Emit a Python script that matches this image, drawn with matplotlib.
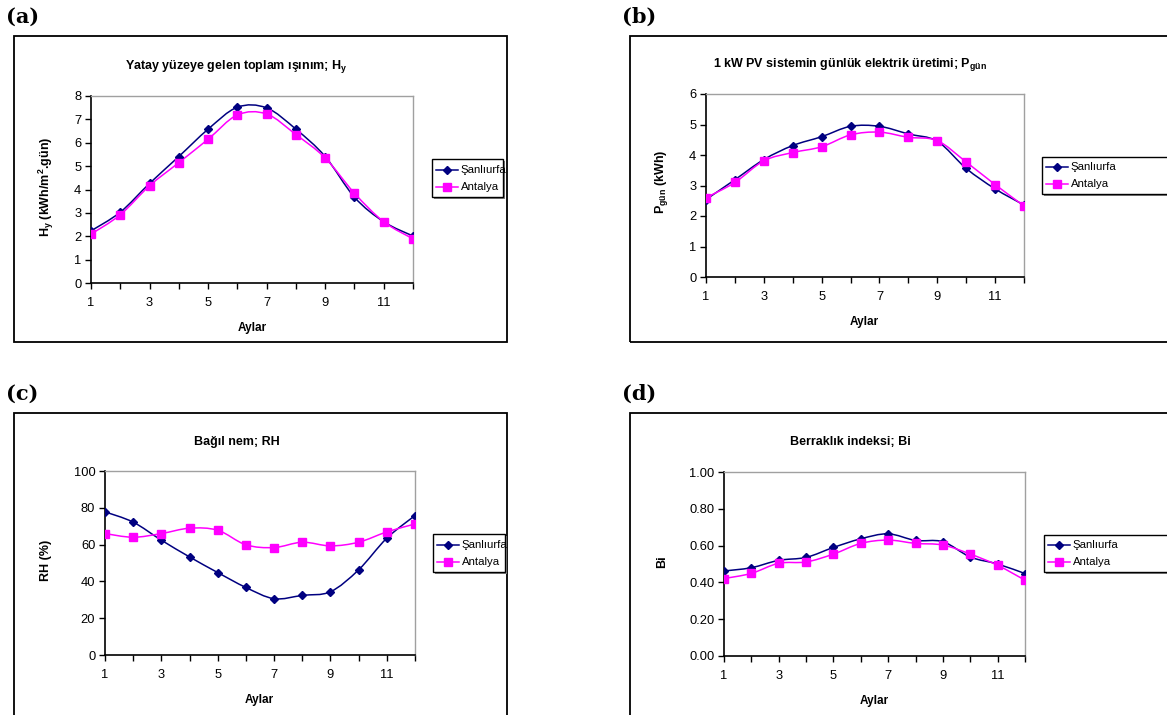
import matplotlib
matplotlib.use("Agg")
import matplotlib.pyplot as plt
from matplotlib.path import Path
from matplotlib.patches import PathPatch, Rectangle
from matplotlib.lines import Line2D
import numpy as np

plt.rcParams['font.family'] = ['Liberation Sans', 'DejaVu Sans']
plt.rcParams['mathtext.default'] = 'regular'

months = list(range(1, 13))
month_labels = ['1', '', '3', '', '5', '', '7', '', '9', '', '11', '']
cities = ['Şanlıurfa', 'Antalya']

# Horizontal global radiation, kWh/m2.day
hy_sanliurfa = [2.23, 3.03, 4.26, 5.41, 6.58, 7.52, 7.49, 6.58, 5.41, 3.67, 2.62, 2.01]
hy_antalya = [2.09, 2.92, 4.16, 5.15, 6.15, 7.19, 7.23, 6.35, 5.35, 3.84, 2.62, 1.89]

# Daily output of a 1 kW PV system, kWh
p_sanliurfa = [2.54, 3.19, 3.85, 4.31, 4.60, 4.94, 4.94, 4.69, 4.45, 3.56, 2.89, 2.36]
p_antalya = [2.60, 3.10, 3.81, 4.08, 4.27, 4.66, 4.75, 4.58, 4.47, 3.77, 3.03, 2.33]

# Relative humidity, %
rh_sanliurfa = [77.8, 72.2, 62.4, 53.3, 44.8, 36.7, 30.6, 32.4, 34.4, 46.3, 63.5, 75.8]
rh_antalya = [66.0, 64.0, 66.0, 68.9, 67.8, 59.9, 58.4, 61.3, 59.3, 61.3, 66.9, 71.2]

# Clearness index
bi_sanliurfa = [0.462, 0.480, 0.520, 0.536, 0.590, 0.637, 0.664, 0.628, 0.621, 0.538, 0.500, 0.448]
bi_antalya = [0.421, 0.449, 0.504, 0.511, 0.554, 0.612, 0.630, 0.612, 0.603, 0.554, 0.493, 0.412]

W, H = 1167, 715
fig = plt.figure(figsize=(W / 100, H / 100), dpi=100)

NAVY = '#000080'
MAGENTA = '#FF00FF'


def px_axes(l, t, r, b):
    return fig.add_axes([l / W, 1 - b / H, (r - l) / W, (b - t) / H])


def smooth_path(xs, ys):
    """Cubic Bezier path through the points (spreadsheet-style smoothed line)."""
    xs = np.asarray(xs, float)
    ys = np.asarray(ys, float)
    n = len(xs)
    pts = np.column_stack([xs, ys])
    verts = [pts[0]]
    codes = [Path.MOVETO]
    for i in range(n - 1):
        p0 = pts[i - 1] if i > 0 else pts[i]
        p1 = pts[i]
        p2 = pts[i + 1]
        p3 = pts[i + 2] if i + 2 < n else pts[i + 1]
        c1 = p1 + (p2 - p0) / 6.0
        c2 = p2 - (p3 - p1) / 6.0
        verts += [c1, c2, p2]
        codes += [Path.CURVE4] * 3
    return Path(verts, codes)


def panel(ax, s1, s2, ylim, yticks, yfmt):
    for ys, color, marker, ms in ((s1, NAVY, 'D', 4.5), (s2, MAGENTA, 's', 5.5)):
        ax.add_patch(PathPatch(smooth_path(months, ys), facecolor='none',
                               edgecolor=color, lw=1.1, zorder=3))
        ax.plot(months, ys, linestyle='none', marker=marker, color=color,
                markersize=ms, zorder=4)
    ax.set_xlim(1, 12)
    ax.set_ylim(*ylim)
    ax.set_xticks(months)
    ax.set_xticklabels(month_labels)
    ax.set_yticks(yticks)
    ax.set_yticklabels([yfmt.format(v) for v in yticks])
    ax.tick_params(axis='both', direction='out', labelsize=9.3, color='black',
                   width=1, length=4, pad=3)
    ax.tick_params(axis='x', pad=6)
    for side in ('left', 'bottom'):
        ax.spines[side].set_color('black')
        ax.spines[side].set_linewidth(1.2)
    for side in ('top', 'right'):
        ax.spines[side].set_color('#A0A0A0')
        ax.spines[side].set_linewidth(1.0)


def frame(l, t, r, b):
    fig.patches.append(Rectangle((l / W, 1 - b / H), (r - l) / W, (b - t) / H,
                                 transform=fig.transFigure, fill=False,
                                 edgecolor='black', lw=1.3))


def legend_box(l, t, r, b):
    # drop shadow then box
    fig.patches.append(Rectangle(((l + 2) / W, 1 - (b + 2) / H), (r - l) / W, (b - t) / H,
                                 transform=fig.transFigure, facecolor='#808080',
                                 edgecolor='none'))
    fig.patches.append(Rectangle((l / W, 1 - b / H), (r - l) / W, (b - t) / H,
                                 transform=fig.transFigure, facecolor='white',
                                 edgecolor='black', lw=1.0))
    rows = [(NAVY, 'D', 4.5), (MAGENTA, 's', 5.5)]
    h = (b - t)
    for k, (color, marker, ms) in enumerate(rows):
        y = t + h * (0.28 + 0.46 * k)
        fig.add_artist(Line2D([(l + 4) / W, (l + 26) / W], [1 - y / H, 1 - y / H],
                              color=color, lw=1.1, transform=fig.transFigure))
        fig.add_artist(Line2D([(l + 15) / W], [1 - y / H], marker=marker,
                              color=color, markersize=ms, transform=fig.transFigure))
        fig.text((l + 28.5) / W, 1 - y / H, cities[k], fontsize=8.2,
                 va='center', ha='left')


def ftext(x, y, s, **kw):
    fig.text(x / W, 1 - y / H, s, **kw)


# panel frames
frame(14, 36, 507, 342)
frame(630, 36, 1180, 342)
frame(14, 413, 507, 725)
frame(630, 413, 1180, 725)

# panel letters
for x, y, s in ((6, 17, '(a)'), (622, 17, '(b)'), (6, 394, '(c)'), (622, 394, '(d)')):
    ftext(x, y, s, family='DejaVu Serif', fontweight='bold', fontsize=15,
          va='center', ha='left')

# (a)
ax = px_axes(91, 96, 413, 283)
panel(ax, hy_sanliurfa, hy_antalya, (0, 8), list(range(0, 9)), '{:d}')
ftext(236, 67, 'Yatay yüzeye gelen toplam ışınım; H$_y$', fontsize=9,
      fontweight='bold', ha='center', va='center')
ftext(252, 328, 'Aylar', fontsize=8.5, fontweight='bold', ha='center', va='center')
ftext(46, 187, 'H$_y$ (kWh/m$^2$.gün)', fontsize=9, fontweight='bold',
      ha='center', va='center', rotation=90)
legend_box(432, 159, 503, 197)

# (b)
ax = px_axes(706, 94, 1024, 277)
panel(ax, p_sanliurfa, p_antalya, (0, 6), list(range(0, 7)), '{:d}')
ftext(850, 65, '1 kW PV sistemin günlük elektrik üretimi; P$_{gün}$', fontsize=9,
      fontweight='bold', ha='center', va='center')
ftext(864, 322, 'Aylar', fontsize=8.5, fontweight='bold', ha='center', va='center')
ftext(662, 182, 'P$_{gün}$ (kWh)', fontsize=9, fontweight='bold',
      ha='center', va='center', rotation=90)
legend_box(1042, 157, 1180, 194)

# (c)
ax = px_axes(105, 471, 415, 655)
panel(ax, rh_sanliurfa, rh_antalya, (0, 100), list(range(0, 101, 20)), '{:d}')
ftext(237, 442, 'Bağıl nem; RH', fontsize=9, fontweight='bold',
      ha='center', va='center')
ftext(259, 700, 'Aylar', fontsize=8.5, fontweight='bold', ha='center', va='center')
ftext(46, 560, 'RH (%)', fontsize=9, fontweight='bold',
      ha='center', va='center', rotation=90)
legend_box(433, 534, 505, 572)

# (d)
ax = px_axes(724, 472, 1025, 656)
panel(ax, bi_sanliurfa, bi_antalya, (0, 1), [0, 0.2, 0.4, 0.6, 0.8, 1.0], '{:.2f}')
ftext(850, 442, 'Berraklık indeksi; Bi', fontsize=9, fontweight='bold',
      ha='center', va='center')
ftext(874, 701, 'Aylar', fontsize=8.5, fontweight='bold', ha='center', va='center')
ftext(662, 562, 'Bi', fontsize=9, fontweight='bold',
      ha='center', va='center', rotation=90)
legend_box(1044, 535, 1180, 572)

fig.savefig('out.png', dpi=100)
